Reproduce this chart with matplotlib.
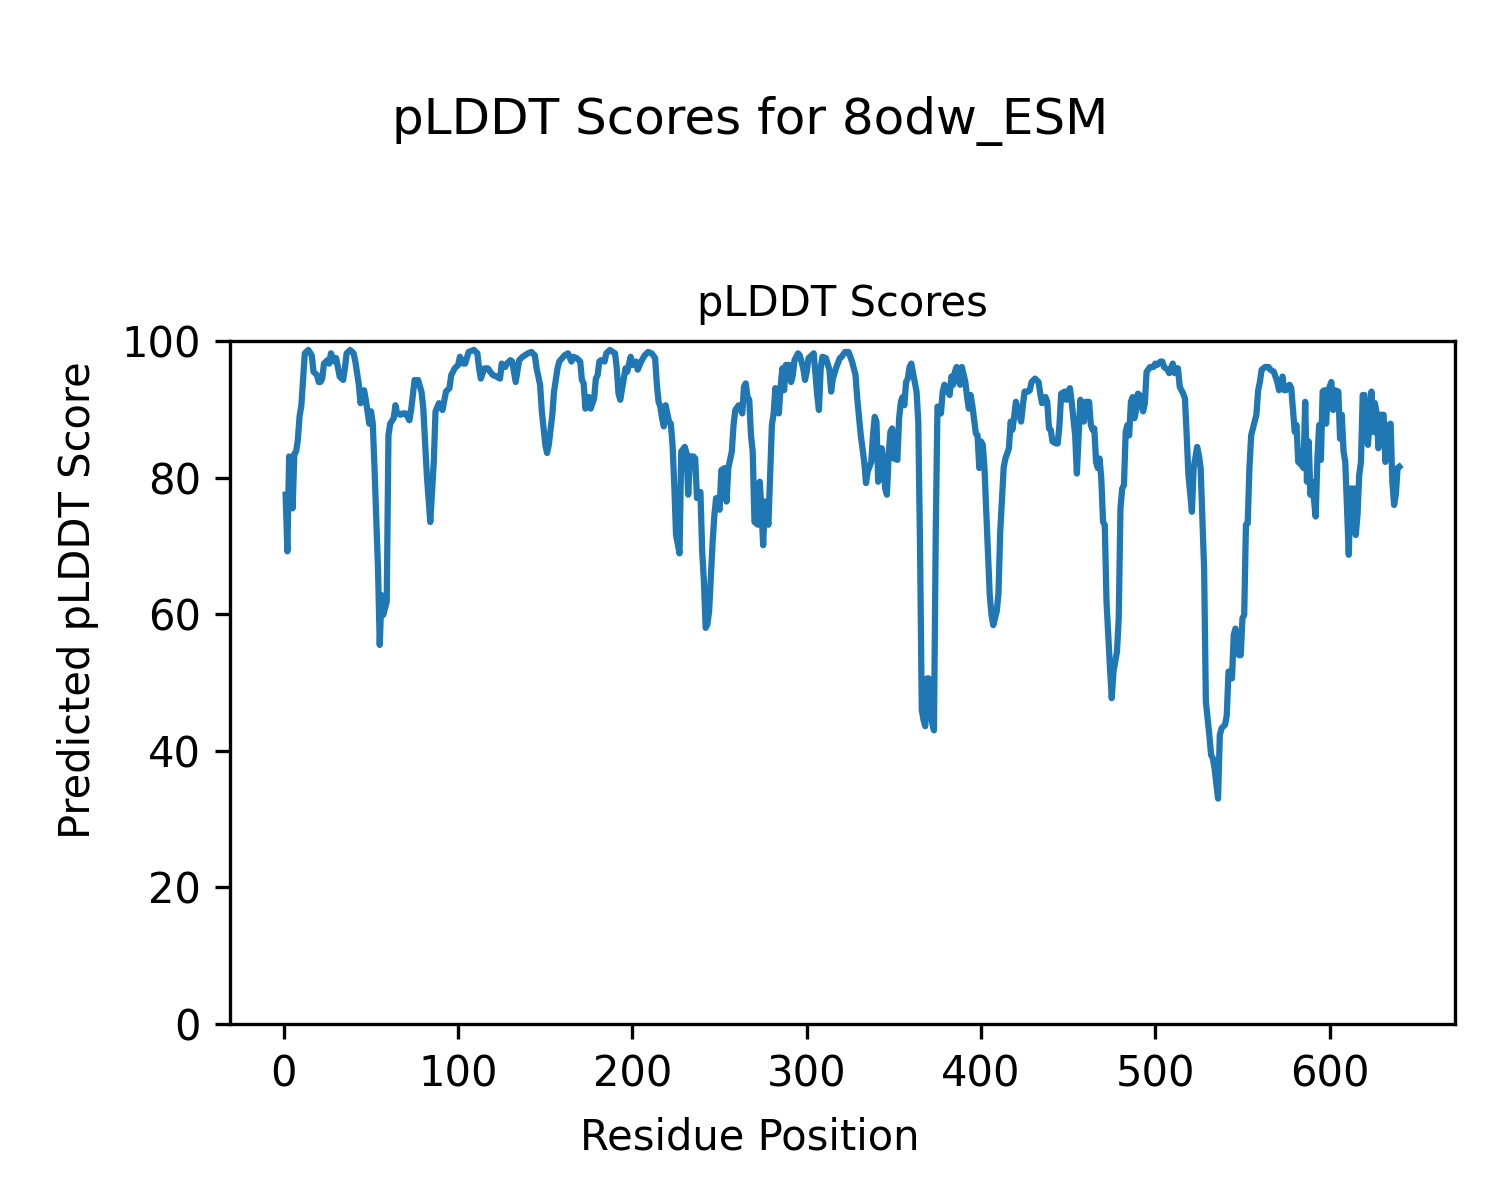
import matplotlib
matplotlib.use("Agg")
import matplotlib.pyplot as plt

# residue positions and pLDDT (turning points)
residue = [
    1, 2, 3, 4, 5, 6, 7, 8, 9, 10, 12, 14, 16, 17, 19, 20, 21, 22, 23, 25,
    26, 27, 29, 30, 32, 34, 35, 36, 38, 40, 41, 43, 44, 45, 46, 47, 49, 50, 51, 52,
    54, 55, 56, 57, 59, 60, 61, 63, 64, 65, 67, 68, 70, 72, 73, 75, 76, 77, 79, 80,
    82, 84, 86, 87, 89, 91, 93, 95, 96, 98, 100, 101, 103, 104, 106, 109, 111, 112, 113, 115,
    117, 119, 120, 122, 124, 125, 127, 128, 130, 131, 133, 135, 137, 140, 142, 144, 145, 147, 148, 150,
    151, 152, 154, 155, 157, 158, 161, 163, 165, 166, 168, 170, 171, 172, 173, 175, 176, 178, 179, 180,
    181, 182, 184, 185, 187, 190, 191, 192, 193, 195, 196, 197, 199, 200, 202, 203, 205, 207, 209, 211,
    213, 214, 215, 216, 217, 218, 219, 221, 222, 223, 224, 225, 227, 228, 230, 231, 232, 233, 235, 236,
    237, 239, 240, 241, 242, 243, 244, 246, 247, 248, 250, 251, 253, 254, 255, 257, 258, 259, 261, 263,
    264, 265, 266, 267, 268, 269, 270, 272, 273, 274, 275, 276, 278, 279, 280, 281, 282, 284, 285, 286,
    287, 288, 290, 291, 292, 293, 295, 296, 298, 299, 300, 301, 302, 304, 306, 307, 308, 309, 311, 313,
    314, 315, 317, 319, 320, 322, 324, 326, 328, 329, 331, 333, 334, 335, 337, 338, 339, 340, 341, 342,
    343, 344, 345, 346, 347, 348, 349, 350, 352, 353, 354, 355, 356, 357, 358, 359, 360, 361, 363, 364,
    365, 366, 367, 368, 369, 370, 371, 372, 373, 374, 375, 376, 377, 378, 379, 380, 382, 383, 384, 385,
    386, 388, 389, 391, 392, 393, 394, 395, 397, 398, 399, 400, 401, 402, 403, 405, 406, 407, 409, 410,
    411, 413, 414, 416, 417, 418, 419, 420, 421, 423, 424, 425, 427, 428, 429, 431, 433, 434, 435, 437,
    438, 439, 440, 441, 443, 444, 445, 446, 448, 449, 450, 451, 452, 454, 455, 456, 457, 458, 459, 460,
    462, 463, 464, 465, 466, 467, 468, 469, 470, 471, 472, 474, 475, 476, 478, 479, 480, 481, 482, 483,
    484, 485, 486, 487, 488, 489, 490, 491, 493, 494, 495, 497, 499, 500, 501, 503, 504, 505, 507, 508,
    510, 511, 512, 513, 514, 516, 517, 518, 519, 521, 522, 524, 525, 526, 527, 528, 529, 531, 532, 533,
    534, 536, 537, 538, 540, 541, 542, 543, 544, 545, 546, 548, 549, 550, 551, 552, 553, 554, 555, 557,
    558, 559, 560, 561, 563, 565, 566, 568, 570, 571, 573, 574, 575, 577, 578, 580, 581, 582, 584, 585,
    586, 587, 588, 589, 590, 592, 593, 594, 595, 596, 597, 598, 599, 601, 602, 603, 605, 606, 607, 608,
    609, 610, 611, 612, 614, 615, 616, 617, 618, 619, 620, 622, 623, 624, 625, 626, 627, 628, 629, 631,
    632, 634, 635, 636, 637, 638, 639, 640,
]
plddt = [
    77.5, 69.2, 83.1, 82.5, 75.5, 83.5, 83.8, 85.5, 89.0, 90.5, 98.2, 98.7, 97.9, 95.5, 95.0, 94.0, 94.0, 94.5, 96.7, 97.2,
    96.7, 98.2, 97.0, 97.5, 94.8, 94.3, 96.0, 98.2, 98.7, 98.2, 97.0, 93.6, 90.9, 92.2, 92.8, 91.4, 87.9, 89.7, 87.9, 81.4,
    66.7, 55.5, 62.8, 59.9, 61.8, 86.2, 87.9, 88.7, 90.6, 89.4, 89.2, 89.4, 89.4, 88.4, 89.9, 94.3, 93.8, 94.3, 92.5, 90.1,
    80.4, 73.5, 82.3, 89.7, 90.9, 89.9, 92.6, 93.1, 95.0, 96.0, 96.5, 97.7, 96.7, 96.7, 98.4, 98.7, 98.2, 96.0, 94.5, 96.0,
    96.0, 95.3, 95.0, 94.8, 94.5, 96.7, 96.2, 96.7, 97.2, 97.0, 94.0, 97.2, 97.7, 98.2, 98.4, 97.9, 96.0, 93.6, 89.7, 84.8,
    83.6, 84.8, 89.2, 92.6, 96.0, 97.0, 97.9, 98.2, 97.0, 97.7, 97.5, 97.0, 94.3, 93.8, 90.1, 91.8, 90.1, 91.6, 94.5, 95.0,
    97.0, 97.2, 97.0, 98.2, 98.7, 98.2, 96.0, 92.3, 91.4, 94.5, 96.0, 95.5, 97.7, 96.5, 97.0, 95.8, 97.0, 97.9, 98.4, 98.2,
    97.5, 93.6, 91.1, 90.4, 88.7, 87.5, 90.6, 88.2, 87.9, 84.8, 78.9, 71.6, 68.9, 83.8, 84.5, 83.6, 77.5, 83.1, 83.1, 82.8,
    77.0, 77.9, 69.2, 64.8, 58.0, 58.5, 60.5, 70.6, 74.5, 77.0, 75.3, 81.1, 81.4, 76.5, 81.4, 83.8, 87.7, 89.9, 90.6, 89.4,
    93.3, 93.8, 91.8, 91.4, 86.2, 83.8, 73.5, 73.1, 79.4, 75.5, 70.1, 76.5, 73.1, 80.4, 87.7, 89.4, 93.1, 89.4, 93.3, 96.0,
    92.8, 96.5, 96.5, 94.0, 95.0, 97.2, 98.2, 97.9, 96.0, 94.3, 95.5, 97.5, 97.7, 98.2, 92.1, 89.9, 96.0, 97.7, 97.5, 95.8,
    92.6, 94.5, 96.2, 97.5, 97.7, 98.4, 98.4, 97.0, 95.0, 91.5, 86.2, 82.3, 79.2, 80.9, 82.3, 86.2, 88.9, 88.2, 79.4, 80.4,
    84.3, 82.3, 78.4, 77.5, 83.3, 86.7, 87.2, 82.8, 82.6, 88.7, 91.1, 91.8, 90.6, 94.0, 94.5, 96.2, 96.7, 95.3, 92.6, 88.2,
    70.0, 46.0, 44.5, 43.6, 50.6, 50.6, 45.7, 44.0, 43.0, 71.6, 90.4, 90.1, 89.4, 92.6, 93.6, 93.1, 92.1, 94.8, 93.6, 95.5,
    96.2, 93.6, 96.2, 94.0, 91.8, 90.1, 92.1, 90.6, 86.5, 86.2, 81.4, 85.3, 84.8, 81.4, 75.0, 62.8, 59.9, 58.4, 60.4, 63.0,
    72.0, 81.5, 82.8, 84.3, 88.2, 87.0, 88.9, 91.1, 89.9, 88.2, 90.6, 92.6, 92.6, 92.8, 94.0, 94.5, 94.0, 92.3, 90.9, 91.8,
    91.1, 87.2, 87.0, 85.3, 85.0, 85.0, 87.7, 92.3, 92.6, 91.4, 92.6, 93.1, 91.1, 86.2, 80.6, 86.2, 91.4, 88.7, 88.2, 91.1,
    91.1, 87.7, 87.0, 87.2, 82.3, 81.4, 82.8, 79.9, 73.5, 73.1, 61.8, 52.1, 47.7, 51.6, 54.5, 59.4, 75.5, 78.4, 78.9, 86.7,
    87.7, 86.2, 91.1, 91.8, 88.7, 89.9, 92.3, 92.1, 89.7, 90.9, 95.5, 96.2, 96.2, 96.7, 96.5, 97.0, 97.0, 96.2, 95.8, 95.3,
    96.7, 95.3, 96.0, 96.0, 93.3, 92.3, 91.6, 86.2, 80.4, 75.0, 81.4, 84.5, 83.3, 81.4, 74.0, 66.7, 47.2, 42.3, 39.4, 38.9,
    37.4, 33.0, 42.3, 43.3, 43.8, 45.2, 51.6, 51.6, 50.6, 57.0, 57.9, 54.0, 54.0, 59.4, 59.9, 73.1, 73.3, 81.4, 86.2, 88.2,
    89.2, 92.8, 94.0, 95.8, 96.2, 96.2, 95.8, 95.5, 94.0, 92.8, 94.8, 92.8, 92.8, 93.6, 93.1, 86.7, 87.7, 82.3, 81.8, 81.4,
    91.1, 79.4, 85.3, 77.5, 79.4, 74.3, 82.8, 87.7, 82.6, 92.6, 92.8, 87.9, 92.6, 94.0, 89.9, 92.8, 92.6, 85.7, 89.2, 83.8,
    82.3, 75.5, 68.7, 78.4, 78.4, 71.6, 74.5, 80.4, 82.3, 92.1, 92.1, 84.8, 88.2, 92.6, 86.7, 90.9, 89.4, 84.3, 89.2, 89.2,
    82.3, 87.7, 87.9, 79.4, 76.0, 77.5, 81.4, 81.6,
]

protein = "8odw_ESM"

fig = plt.figure(figsize=(5, 4), dpi=300)
ax = fig.add_axes([0.1533, 0.1467, 0.8167, 0.5691])

ax.plot(residue, plddt, color="#1f77b4", linewidth=1.5)
ax.set_ylim(0, 100)
ax.set_title("pLDDT Scores", fontsize=10)

# axis labels are figure-level, centred on the whole figure
fig.supxlabel("Residue Position", fontsize=10, y=0.0517, va="center")
fig.supylabel("Predicted pLDDT Score", fontsize=10, x=0.052, ha="center")
fig.suptitle("pLDDT Scores for {}".format(protein), fontsize=12, y=0.92)

plt.savefig("out.png", dpi=300)
